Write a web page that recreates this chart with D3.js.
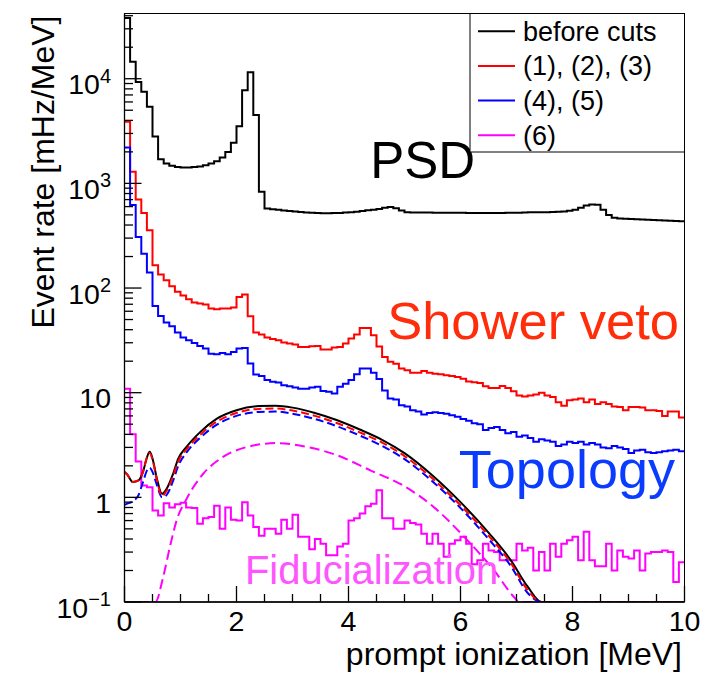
<!DOCTYPE html>
<html>
<head>
<meta charset="utf-8">
<script src="https://cdn.jsdelivr.net/npm/d3@7"></script>
<style>
  html, body { margin: 0; padding: 0; background: #fff; }
  svg { display: block; font-family: "Liberation Sans", Arial, Helvetica, sans-serif; }
</style>
</head>
<body>
<svg id="chart" width="716" height="677"></svg>
<script>
// Histogram binning: 100 bins of 0.1 MeV from 0 to 10 MeV
const binWidth = 0.1;
const nBins = 100;

// Event rate per bin [mHz/MeV], before any cut
const beforeCuts = [
  38000, 14500, 9300, 7500, 5400, 2800, 1700, 1550, 1470, 1430,
  1420, 1420, 1430, 1450, 1490, 1550, 1630, 1770, 2000, 2440,
  3520, 7780, 11500, 4490, 830, 575, 565, 560, 552, 545,
  538, 532, 527, 523, 520, 518, 518, 520, 522, 526,
  530, 537, 545, 553, 561, 570, 585, 596, 580, 550,
  530, 527, 527, 526, 526, 525, 525, 525, 525, 525,
  524, 522, 520, 520, 520, 521, 522, 522, 523, 525,
  525, 527, 529, 531, 530, 530, 533, 536, 540, 548,
  560, 585, 615, 630, 625, 560, 500, 470, 462, 458,
  456, 454, 452, 450, 447, 445, 442, 440, 437, 435
];

// After cuts (1), (2), (3) — PSD
const cuts123 = [
  3870, 1290, 700, 520, 357, 165, 135, 119, 104, 92,
  85, 78, 72.6, 71, 69.5, 63.7, 62.7, 63.7, 63.7, 65,
  82, 86.7, 53.7, 37.5, 35.9, 33.6, 32.6, 31.7, 30.1, 29.5,
  28.8, 27.4, 27.4, 27.8, 27.9, 25.8, 25.8, 27, 27.4, 29.5,
  32.9, 36, 41.6, 41.6, 35.4, 27.6, 21.9, 19.7, 18.9, 17,
  16.4, 15.5, 15.5, 16.1, 15.5, 15.2, 15, 14.7, 14.4, 14.1,
  13.6, 12.8, 12.6, 12.4, 11.5, 11.1, 11.1, 11.6, 11.1, 10.3,
  9.4, 9.2, 9.4, 9.6, 10, 9.4, 9.1, 8.1, 7.5, 8.45,
  8.6, 8.8, 8.1, 8.6, 7.8, 8.1, 7.8, 7.4, 7.3, 6.8,
  7.3, 7.3, 7.2, 6.8, 6.8, 6.7, 6.0, 6.6, 6.6, 5.8
];

// After cuts (4), (5) — shower veto
const cuts45 = [
  2200, 620, 308, 213, 141, 67.4, 54.1, 46.8, 43.1, 37.5,
  33.6, 31.7, 29.9, 28, 26.4, 23.6, 23.3, 24, 23.3, 24.5,
  26.4, 26.8, 19, 14.9, 14.4, 13.2, 12.7, 12.5, 11.8, 11.5,
  11.2, 10.9, 10.9, 11.2, 11.4, 10.4, 10.2, 9.8, 11.4, 12.2,
  13.2, 15, 17, 17, 15.5, 13.5, 10.5, 8.8, 8.6, 7.6,
  7.4, 6.8, 6.6, 6.2, 6.4, 6.5, 6.4, 6.3, 6.1, 5.9,
  5.6, 5.4, 5.1, 5.0, 4.4, 4.6, 4.7, 4.4, 4.1, 4.2,
  3.8, 3.9, 3.7, 3.4, 3.6, 3.5, 3.4, 3.1, 3.2, 3.4,
  3.3, 3.4, 3.2, 3.3, 3.2, 3.0, 2.95, 3.1, 3.0, 2.9,
  2.65, 2.8, 2.85, 2.7, 2.65, 2.7, 2.75, 2.8, 2.85, 2.75
];

// After cut (6) — fiducialization
const cut6 = [
  10.9, 4.0, 2.2, 1.3, 1.25, 0.75, 0.67, 0.88, 0.80, 0.86,
  0.89, 0.80, 0.79, 0.56, 0.63, 0.65, 0.83, 0.50, 0.80, 0.61,
  0.60, 0.90, 0.67, 0.52, 0.43, 0.50, 0.50, 0.45, 0.61, 0.50,
  0.68, 0.42, 0.42, 0.32, 0.40, 0.36, 0.28, 0.28, 0.34, 0.36,
  0.60, 0.63, 0.70, 0.82, 0.87, 1.17, 0.63, 0.63, 0.50, 0.50,
  0.60, 0.57, 0.55, 0.45, 0.36, 0.45, 0.36, 0.27, 0.36, 0.39,
  0.42, 0.36, 0.23, 0.25, 0.36, 0.31, 0.30, 0.25, 0.25, 0.25,
  0.36, 0.31, 0.33, 0.20, 0.30, 0.20, 0.36, 0.27, 0.36, 0.39,
  0.42, 0.25, 0.47, 0.25, 0.22, 0.22, 0.36, 0.20, 0.31, 0.27,
  0.26, 0.31, 0.20, 0.29, 0.30, 0.30, 0.31, 0.30, 0.155, 0.24
];

// Expected signal spectra (smooth), sampled in energy [MeV]
const sigE = [0.0, 0.05, 0.15, 0.25, 0.33, 0.40, 0.45, 0.50, 0.58, 0.67, 0.75, 0.87, 0.96, 1.1, 1.35, 1.65, 2.0, 2.4, 2.7, 3.0, 3.4, 3.8, 4.2, 4.6, 5.0, 5.5, 6.0, 6.5, 6.9, 7.2, 7.45, 7.7, 10.0];
const sigBefore = [1.75, 1.65, 1.40, 1.45, 1.75, 2.4, 2.72, 2.35, 1.5, 1.08, 1.2, 1.69, 2.34, 3.0, 4.2, 5.65, 6.8, 7.45, 7.5, 7.2, 6.4, 5.45, 4.45, 3.55, 2.65, 1.62, 0.9, 0.46, 0.25, 0.14, 0.1, 0.05, 0.01];
const sig123 =    [1.75, 1.65, 1.40, 1.45, 1.75, 2.4, 2.65, 2.3, 1.45, 1.03, 1.15, 1.6, 2.2, 2.85, 3.95, 5.3, 6.4, 7.0, 7.05, 6.75, 6.0, 5.1, 4.18, 3.33, 2.48, 1.51, 0.84, 0.43, 0.235, 0.13, 0.093, 0.05, 0.01];
const sig45 =     [0.85, 0.87, 0.92, 1.05, 1.4, 1.8, 1.92, 1.75, 1.3, 1.0, 1.05, 1.45, 2.0, 2.65, 3.7, 4.95, 6.0, 6.55, 6.6, 6.3, 5.6, 4.77, 3.9, 3.1, 2.32, 1.42, 0.79, 0.40, 0.22, 0.122, 0.087, 0.05, 0.01];
const sig6E = [0.0, 0.5, 0.55, 0.69, 0.81, 0.93, 1.11, 1.41, 1.71, 2.19, 2.72, 3.26, 3.8, 4.39, 4.95, 5.52, 6.12, 6.6, 6.96, 7.05, 7.2, 10.0];
const sig6 =  [0.02, 0.05, 0.1, 0.173, 0.335, 0.6, 0.97, 1.69, 2.34, 3.03, 3.30, 3.03, 2.52, 1.81, 1.32, 0.81, 0.39, 0.2, 0.111, 0.1, 0.07, 0.01];

// Axis tick definitions
const xMajorTicks = [0, 2, 4, 6, 8, 10];
const yDecades = [-1, 0, 1, 2, 3, 4];
const yTickLabels = [["10", "\u22121"], ["1", ""], ["10", ""], ["10", "2"], ["10", "3"], ["10", "4"]];

// Legend and annotation texts
const legendLabels = ["before cuts", "(1), (2), (3)", "(4), (5)", "(6)"];
const seriesColors = ["#000000", "#ff0000", "#0000ff", "#ff00ff"];
const annotations = [
  { text: "PSD", e: 4.39, v: 1120, color: "#000000", size: 51 },
  { text: "Shower veto", e: 4.69, v: 32.4, color: "#ff2d0a", size: 52.5 },
  { text: "Topology", e: 5.97, v: 1.22, color: "#0a3cff", size: 54 },
  { text: "Fiducialization", e: 2.15, v: 0.147, color: "#ff55ff", size: 40 }
];

const svg = d3.select("#chart");
const frame = { left: 124.5, right: 684.5, top: 13.5, bottom: 602 };
const yMin = 0.1, yMax = 42000;

const x = d3.scaleLinear().domain([0, 10]).range([frame.left, frame.right]);
const y = d3.scaleLog().domain([yMin, yMax]).range([frame.bottom, frame.top]);
const yc = v => y(Math.max(yMin, Math.min(yMax, v)));

svg.append("defs").append("clipPath").attr("id", "plotclip")
  .append("rect")
  .attr("x", frame.left).attr("y", frame.top - 1)
  .attr("width", frame.right - frame.left).attr("height", frame.bottom - frame.top + 1);

const plot = svg.append("g").attr("clip-path", "url(#plotclip)");

// Step outline for a binned histogram
function histPoints(vals) {
  const pts = vals.map((v, i) => [i * binWidth, v]);
  pts.push([nBins * binWidth, vals[vals.length - 1]]);
  return pts;
}
const stepLine = d3.line()
  .x(d => x(d[0]))
  .y(d => yc(d[1]))
  .curve(d3.curveStepAfter);

const histograms = [beforeCuts, cuts123, cuts45, cut6];
histograms.forEach((vals, k) => {
  plot.append("path")
    .attr("d", stepLine(histPoints(vals)))
    .attr("fill", "none")
    .attr("stroke", seriesColors[k])
    .attr("stroke-width", 2)
    .attr("stroke-linejoin", "miter");
});

// Smooth expected spectra
const smoothLine = d3.line()
  .x(d => x(d[0]))
  .y(d => yc(d[1]))
  .curve(d3.curveMonotoneX);

const curves = [
  { e: sig6E, v: sig6, color: seriesColors[3], dash: "10,5" },
  { e: sigE, v: sigBefore, color: seriesColors[0], dash: null },
  { e: sigE, v: sig45, color: seriesColors[2], dash: "8,4" },
  { e: sigE, v: sig123, color: seriesColors[1], dash: "8,4" }
];
curves.forEach(c => {
  const pts = c.e.map((e, i) => [e, c.v[i]]);
  plot.append("path")
    .attr("d", smoothLine(pts))
    .attr("fill", "none")
    .attr("stroke", c.color)
    .attr("stroke-width", 2)
    .attr("stroke-dasharray", c.dash);
});

// Annotation labels
annotations.forEach(a => {
  svg.append("text")
    .attr("x", x(a.e)).attr("y", y(a.v))
    .attr("fill", a.color)
    .attr("font-size", a.size)
    .text(a.text);
});

// Frame
svg.append("rect")
  .attr("x", frame.left).attr("y", frame.top)
  .attr("width", frame.right - frame.left).attr("height", frame.bottom - frame.top)
  .attr("fill", "none").attr("stroke", "#000").attr("stroke-width", 1);

const axes = svg.append("g").attr("stroke", "#000").attr("stroke-width", 1.3);
axes.append("line").attr("x1", frame.left).attr("x2", frame.left).attr("y1", frame.top).attr("y2", frame.bottom);
axes.append("line").attr("x1", frame.left).attr("x2", frame.right).attr("y1", frame.bottom).attr("y2", frame.bottom);

// X ticks: major every 2 MeV, minor every 0.5 MeV
const xMinor = d3.range(0, 10.001, 0.5);
xMinor.forEach(t => {
  const major = xMajorTicks.some(m => Math.abs(m - t) < 1e-6);
  axes.append("line")
    .attr("x1", x(t)).attr("x2", x(t))
    .attr("y1", frame.bottom).attr("y2", frame.bottom - (major ? 16 : 8));
});
svg.append("g").selectAll("text").data(xMajorTicks).join("text")
  .attr("x", d => x(d)).attr("y", frame.bottom + 28.5)
  .attr("text-anchor", "middle")
  .attr("font-size", 28.5)
  .text(d => d3.format("d")(d));

// Y ticks: decades with 2..9 minor ticks
yDecades.forEach(k => {
  for (let m = 1; m <= 9; m++) {
    const v = m * Math.pow(10, k);
    if (v < yMin || v > yMax) continue;
    axes.append("line")
      .attr("x1", frame.left).attr("x2", frame.left + (m === 1 ? 17 : 8.5))
      .attr("y1", y(v)).attr("y2", y(v));
  }
});
yDecades.forEach((k, i) => {
  const [base, sup] = yTickLabels[i];
  const t = svg.append("text")
    .attr("x", 111).attr("y", y(Math.pow(10, k)) + 15.5)
    .attr("text-anchor", "end")
    .attr("font-size", 28.5);
  t.append("tspan").text(base);
  if (sup) {
    t.append("tspan").attr("dy", -11.5).attr("font-size", 20).text(sup);
  }
});

// Axis titles
svg.append("text")
  .attr("transform", `translate(54, ${frame.top + 2}) rotate(-90)`)
  .attr("text-anchor", "end")
  .attr("font-size", 32)
  .text("Event rate [mHz/MeV]");
svg.append("text")
  .attr("x", 682).attr("y", 665)
  .attr("text-anchor", "end")
  .attr("font-size", 32)
  .text("prompt ionization [MeV]");

// Legend
const lg = { x0: 470, y0: 13.5, x1: 684.5, y1: 152 };
svg.append("rect")
  .attr("x", lg.x0).attr("y", lg.y0)
  .attr("width", lg.x1 - lg.x0).attr("height", lg.y1 - lg.y0)
  .attr("fill", "#fff").attr("stroke", "#000").attr("stroke-width", 1);
const rowH = (lg.y1 - lg.y0) / legendLabels.length;
legendLabels.forEach((lab, i) => {
  const cy = lg.y0 + rowH * (i + 0.5) + 0.5;
  svg.append("line")
    .attr("x1", 478).attr("x2", 515).attr("y1", cy).attr("y2", cy)
    .attr("stroke", seriesColors[i]).attr("stroke-width", 2);
  svg.append("text")
    .attr("x", 523).attr("y", cy + 9.5)
    .attr("font-size", 27)
    .text(lab);
});
</script>
</body>
</html>
